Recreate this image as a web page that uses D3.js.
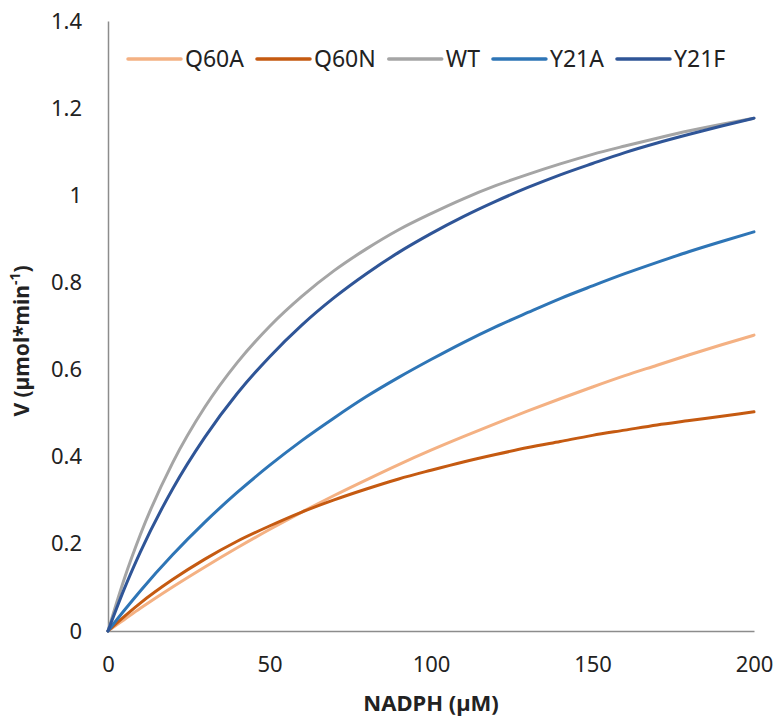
<!DOCTYPE html>
<html>
<head>
<meta charset="utf-8">
<script src="https://cdn.jsdelivr.net/npm/d3@7"></script>
<style>
  html, body { margin: 0; padding: 0; background: #fff; }
  svg { display: block; }
</style>
</head>
<body>
<svg id="chart" width="777" height="721"></svg>
<script>
// NADPH concentrations (µM) at which each velocity is read
const nadph = [0, 5, 10, 20, 30, 40, 50, 60, 70, 80, 90, 100, 110, 120, 130, 140, 150, 160, 170, 180, 190, 200];

// Velocities (µmol*min-1) for each enzyme variant
const q60a = [0, 0.026, 0.052, 0.101, 0.147, 0.191, 0.233, 0.273, 0.311, 0.347, 0.382, 0.415, 0.446, 0.476, 0.505, 0.533, 0.560, 0.586, 0.610, 0.634, 0.657, 0.679];
const q60n = [0, 0.033, 0.064, 0.118, 0.165, 0.206, 0.241, 0.273, 0.301, 0.326, 0.349, 0.369, 0.388, 0.405, 0.421, 0.435, 0.449, 0.461, 0.473, 0.483, 0.493, 0.503];
const wt   = [0, 0.119, 0.221, 0.386, 0.514, 0.616, 0.699, 0.768, 0.827, 0.877, 0.921, 0.958, 0.992, 1.022, 1.048, 1.072, 1.094, 1.113, 1.131, 1.148, 1.163, 1.177];
const y21a = [0, 0.047, 0.092, 0.175, 0.250, 0.318, 0.380, 0.437, 0.489, 0.538, 0.582, 0.623, 0.662, 0.698, 0.731, 0.763, 0.792, 0.820, 0.846, 0.871, 0.894, 0.916];
const y21f = [0, 0.096, 0.181, 0.326, 0.445, 0.545, 0.629, 0.702, 0.765, 0.820, 0.869, 0.912, 0.951, 0.986, 1.018, 1.047, 1.073, 1.098, 1.120, 1.140, 1.159, 1.177];

const seriesNames = ["Q60A", "Q60N", "WT", "Y21A", "Y21F"];
const seriesColors = ["#F4B183", "#C55A11", "#A5A5A5", "#2E75B6", "#2F5597"];
const seriesValues = [q60a, q60n, wt, y21a, y21f];

const xTicks = [0, 50, 100, 150, 200];
const yTicks = [0, 0.2, 0.4, 0.6, 0.8, 1, 1.2, 1.4];

const svg = d3.select("#chart");
const margin = { left: 108, right: 23, top: 21, bottom: 90 };
const W = 777, H = 721;

const x = d3.scaleLinear().domain([0, 200]).range([margin.left, W - margin.right]);
const y = d3.scaleLinear().domain([0, 1.4]).range([H - margin.bottom, margin.top]);

const font = "'Noto Sans', 'Open Sans', sans-serif";
const axisColor = "#8C8C8C";

// Y axis
const yAxis = svg.append("g")
  .attr("transform", `translate(${margin.left},0)`)
  .call(d3.axisLeft(y).tickValues(yTicks).tickSize(0).tickPadding(26)
    .tickFormat(d => d3.format("~g")(d)));
yAxis.select(".domain").attr("stroke", axisColor).attr("stroke-width", 1.5);
yAxis.selectAll("text").attr("font-family", font).attr("font-size", 22).attr("fill", "#222");

// X axis
const xAxis = svg.append("g")
  .attr("transform", `translate(0,${H - margin.bottom})`)
  .call(d3.axisBottom(x).tickValues(xTicks).tickSize(0).tickPadding(25));
xAxis.select(".domain").attr("stroke", axisColor).attr("stroke-width", 1.5);
xAxis.selectAll("text").attr("font-family", font).attr("font-size", 22).attr("fill", "#222");

// Curves
const line = d3.line()
  .x(d => x(d[0]))
  .y(d => y(d[1]))
  .curve(d3.curveMonotoneX);

seriesNames.forEach((name, i) => {
  const pts = nadph.map((n, j) => [n, seriesValues[i][j]]);
  svg.append("path")
    .datum(pts)
    .attr("fill", "none")
    .attr("stroke", seriesColors[i])
    .attr("stroke-width", 3)
    .attr("stroke-linecap", "round")
    .attr("d", line);
});

// Legend
const legend = svg.append("g").attr("transform", "translate(128,59)");
let lx = 0;
seriesNames.forEach((name, i) => {
  legend.append("line")
    .attr("x1", lx).attr("x2", lx + 53)
    .attr("y1", 0).attr("y2", 0)
    .attr("stroke", seriesColors[i])
    .attr("stroke-width", 3.5)
    .attr("stroke-linecap", "round");
  const t = legend.append("text")
    .attr("x", lx + 57).attr("y", 0)
    .attr("dy", "0.35em")
    .attr("font-family", font).attr("font-size", 23).attr("fill", "#222")
    .text(name);
  lx += 57 + t.node().getComputedTextLength() + 13;
});

// Axis titles
svg.append("text")
  .attr("x", (margin.left + W - margin.right) / 2)
  .attr("y", 711)
  .attr("text-anchor", "middle")
  .attr("font-family", font).attr("font-size", 22).attr("font-weight", "bold").attr("fill", "#222")
  .text("NADPH (µM)");

const yt = svg.append("text")
  .attr("transform", "translate(29,341) rotate(-90)")
  .attr("text-anchor", "middle")
  .attr("font-family", font).attr("font-size", 21).attr("font-weight", "bold").attr("fill", "#222");
yt.append("tspan").text("V (µmol*min");
yt.append("tspan").attr("baseline-shift", "super").attr("font-size", 14).text("-1");
yt.append("tspan").text(")");
</script>
</body>
</html>
